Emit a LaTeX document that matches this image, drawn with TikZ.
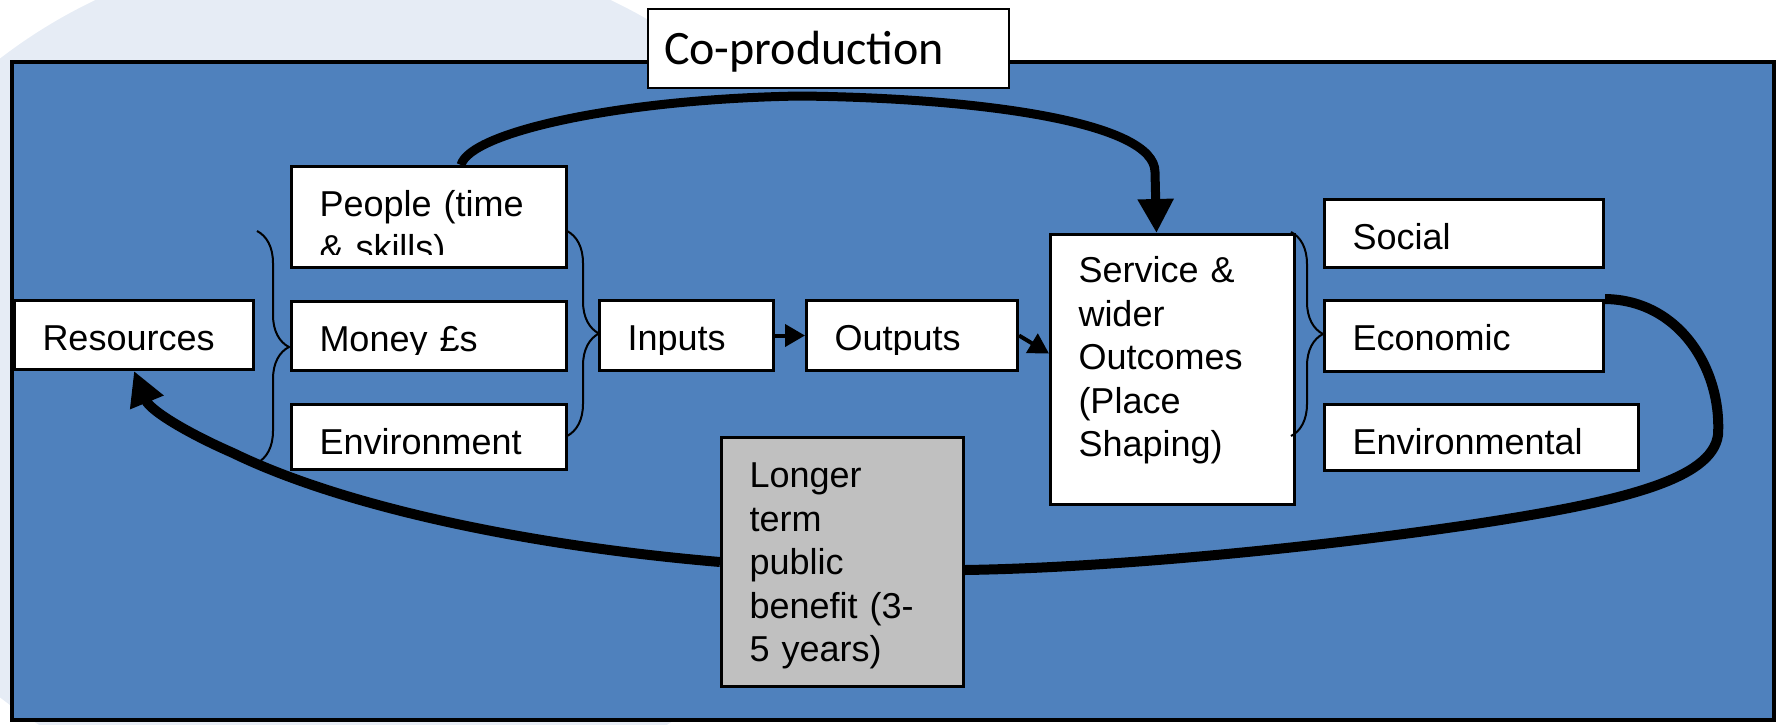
\documentclass[tikz,border=0pt]{standalone}
\usepackage{fontspec}
\setmainfont{Liberation Sans}
\newfontfamily\copfont{Carlito}
\usepackage{tikz}
\usetikzlibrary{arrows.meta, decorations.pathreplacing}
\definecolor{slideblue}{RGB}{79,129,189}
\definecolor{paleblue}{RGB}{230,236,245}
\definecolor{benefitgrey}{RGB}{192,192,192}

\begin{document}
\begin{tikzpicture}[x=0.5pt, y=-0.5pt,
    box/.style={draw=black, line width=1.5pt, fill=white, anchor=north west,
      inner xsep=14pt, inner ysep=0pt, align=left, text height=25pt,
      font=\fontsize{18pt}{21.75pt}\selectfont},
    loopline/.style={line width=5pt},
    bigtip/.style={-{Triangle[length=17pt, width=17pt]}},
    smalltip/.style={line width=2pt, -{Triangle[length=10pt, width=11pt]}},
    bracket/.style={decorate, decoration={brace, amplitude=16pt}, line width=1pt}]
    \clip (0,0) rectangle (1779,724);

    % Page background and slide panel
    \fill[paleblue] (353,378) ellipse [x radius=260pt, y radius=217.5pt];
    \draw[line width=2pt, fill=slideblue] (12,62) rectangle (1774,720);

    % Title box
    \node[box, line width=1pt, inner xsep=8pt, text width=164.5pt, text height=27.5pt, text depth=12pt,
      font=\copfont\fontsize{24pt}{28pt}\selectfont] (cop) at (647,8) {Co-production};

    % Resources and what they are made of
    \node[box, text width=91.5pt, text depth=9.5pt] (res) at (13,299) {Resources};
    \node[box, text width=109.5pt, text depth=25.5pt] (ppl) at (290,165) {People (time\\ \& skills)};
    \node[box, text width=109.5pt, text depth=9.5pt] (mon) at (290,300) {Money £s};
    \node[box, text width=109.5pt, text depth=7.5pt] (env) at (290,403) {Environment};

    % Inputs, outputs, outcomes
    \node[box, text width=59pt, text depth=10pt] (inp) at (598,299) {Inputs};
    \node[box, text width=77.5pt, text depth=10pt] (outp) at (805,299) {Outputs};
    \node[box, text width=94pt, text height=24pt, text depth=111pt] (serv) at (1049,233)
      {Service \&\\ wider\\ Outcomes\\ (Place\\ Shaping)};

    % Kinds of outcome
    \node[box, text width=111.5pt, text depth=9pt] (soc) at (1323,198) {Social};
    \node[box, text width=111.5pt, text depth=10.5pt] (eco) at (1323,299) {Economic};
    \node[box, text width=129pt, text depth=8pt] (envl) at (1323,403) {Environmental};

    % Longer term benefit
    \node[box, fill=benefitgrey, text width=93pt, text depth=99.5pt] (ltb) at (720,436)
      {Longer\\ term\\ public\\ benefit (3-\\ 5 years)};

    % Text is cut off at the bottom of these boxes
    \foreach \b/\h in {ppl/7pt, mon/8.5pt, inp/8.5pt, outp/8.5pt}
        \fill[white] ([shift={(1.6pt,1.6pt)}]\b.south west) rectangle ([shift={(-1.6pt,\h)}]\b.south east);

    % Braces
    \draw[bracket] (257,231) -- (257,463);
    \draw[bracket] (567,231) -- (567,436);
    \draw[bracket] (1291,232) -- (1291,436);

    % Flow arrows
    \draw[smalltip] (inp) -- (outp);
    \draw[smalltip] (outp.east) -- ([yshift=8pt]serv.west);

    % Co-production loop
    \draw[loopline, line width=4.5pt, bigtip] ([xshift=16pt]ppl.north)
        .. controls (470,132) and (620,99) .. (800,96)
        .. controls (980,98) and (1155,122) .. (1155,172) -- ([xshift=-8pt]serv.north);

    % Feedback loop back to resources
    \draw[loopline] (eco.north east) .. controls (1680,300) and (1722,370) .. (1718,435)
        .. controls (1712,480) and (1620,502) .. (1475,524)
        .. controls (1300,550) and (1100,568) .. ([yshift=-4pt]ltb.east);
    \draw[loopline, bigtip] (ltb.west) .. controls (520,545) and (340,505) .. (233,453)
        .. controls (185,432) and (150,410) .. (res.south);
\end{tikzpicture}
\end{document}
